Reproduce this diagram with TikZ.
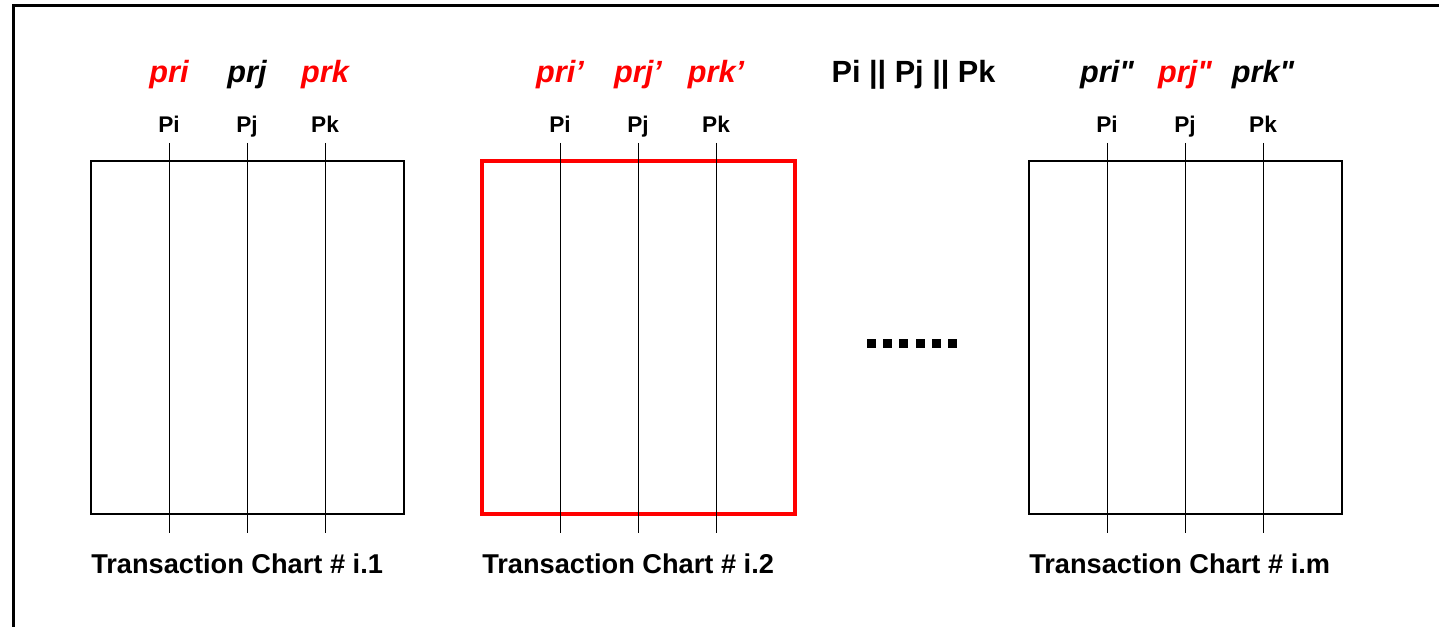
\documentclass[tikz,border=0pt]{standalone}
\usepackage{fontspec}
\setmainfont{Liberation Sans}
\newfontfamily\chartfont{Liberation Sans}
\begin{document}
\begin{tikzpicture}[x=0.75pt,y=-0.75pt,
  prlabel/.style={font=\chartfont\fontsize{23}{28}\selectfont\bfseries\itshape, anchor=base, inner sep=0},
  proclabel/.style={font=\chartfont\fontsize{17}{20}\selectfont\bfseries, anchor=base, inner sep=0},
  chartlabel/.style={font=\chartfont\fontsize{20.4}{24}\selectfont\bfseries, anchor=base west, inner sep=0},
  lifeline/.style={line width=0.75pt}]
\useasboundingbox (0,0) rectangle (1439,627);
\draw[line width=2.25pt] (13.5,627) -- (13.5,5.5) -- (1439,5.5);
\pgfmathsetmacro\w{313};
% one chart per entry: left edge, number, frame colour, prime, label colours
\foreach \x/\n/\c/\lw/\s/\ci/\cj/\ck in {91/1/black/1.5pt//red/black/red, 482/2/red/2.6pt/’/red/red/red, 1029/m/black/1.5pt/"/black/red/black} {
  \draw[draw=\c, line width=\lw] (\x,161) rectangle (\x+\w,514);
  \foreach \p/\k/\col in {i/1/\ci, j/2/\cj, k/3/\ck} {
    \coordinate (top\n\p) at (\x+78*\k,143);
    \coordinate (bot\n\p) at (\x+78*\k,533);
    \draw[lifeline] (top\n\p) -- (bot\n\p);
    \node[proclabel] (proc\n\p) at (\x+78*\k,133) {P\p};
    \node[prlabel, text=\col] (pr\n\p) at (\x+78*\k,83) {pr\p\s};
  }
  \node[chartlabel] (chart\n) at (\x,573) {Transaction Chart \# i.\n};
}
\node[font=\chartfont\fontsize{23}{28}\selectfont\bfseries, anchor=base, inner sep=0] (par) at (913.5,83) {Pi || Pj || Pk};
\foreach \i in {0,...,5} \fill (867+\i*16.2,339) rectangle ++(9,9);
\end{tikzpicture}
\end{document}
